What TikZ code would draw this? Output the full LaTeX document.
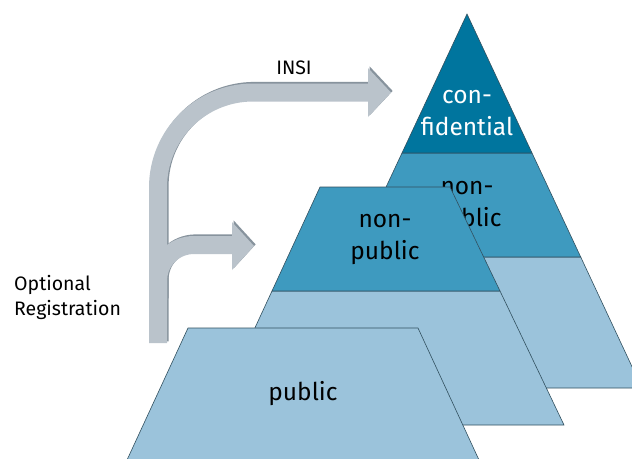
\documentclass[tikz,border=0pt]{standalone}
\usepackage{fontspec}
\setmainfont{Fira Sans}
\definecolor{conf}{RGB}{0,117,158}
\definecolor{nonpub}{RGB}{62,154,191}
\definecolor{pub}{RGB}{155,195,219}
\definecolor{edge}{RGB}{50,80,95}
\definecolor{arr}{RGB}{186,195,203}
\definecolor{arrdark}{RGB}{135,147,157}
\tikzset{
  band/.style={draw=edge,line width=0.6pt,line join=miter},
  lbl/.style={align=center,font=\fontsize{24.5}{32}\selectfont,text=black,inner sep=0pt},
  side/.style={align=left,font=\fontsize{19.5}{25}\selectfont,text=black,inner sep=0pt},
  trunk/.style={line width=18pt,line cap=butt},
}
\begin{document}
\begin{tikzpicture}[x=1pt,y=-1pt]
\useasboundingbox (0,0) rectangle (632,458);
\clip (0,0) rectangle (632,458);
\fill[white] (0,0) rectangle (632,458);
% arrows: shadow then light
\begin{scope}[shift={(1.6,-1.6)}]
  \draw[trunk,arrdark] (158,343) -- (158,187.5) .. controls (158,135) and (200.5,92.5) .. (253,92.5) -- (369,92.5);
  \fill[arrdark] (368,68) -- (391,92.5) -- (368,117) -- cycle;
  \draw[trunk,arrdark] (158,300) -- (158,281) .. controls (158,261) and (174,245) .. (194,245) -- (233,245);
  \fill[arrdark] (232,222) -- (254,246) -- (232,270) -- cycle;
\end{scope}
\draw[trunk,arr] (158,343) -- (158,187.5) .. controls (158,135) and (200.5,92.5) .. (253,92.5) -- (369,92.5);
\fill[arr] (368,68) -- (391,92.5) -- (368,117) -- cycle;
\draw[trunk,arr] (158,300) -- (158,281) .. controls (158,261) and (174,245) .. (194,245) -- (233,245);
\fill[arr] (232,222) -- (254,246) -- (232,270) -- cycle;
\node[side,anchor=north] (insi) at (294,61) {INSI};
\node[side,anchor=west] (optreg) at (14,297) {Optional\\Registration};
% back pyramid
\filldraw[band,fill=pub] (353.3,257) -- (580.7,257) -- (642,388) -- (292,388) -- cycle;
\filldraw[band,fill=nonpub] (402,153) -- (532,153) -- (580.7,257) -- (353.3,257) -- cycle;
\filldraw[band,fill=conf] (467,14) -- (532,153) -- (402,153) -- cycle;
\node[lbl,text=white] (conf) at (467,113) {con-\\fidential};
\node[lbl] (np1) at (467,207) {non-\\public};
% middle pyramid
\filldraw[band,fill=pub] (272,291) -- (500,291) -- (564,425) -- (210,425) -- cycle;
\filldraw[band,fill=nonpub] (320,187) -- (450,187) -- (500,291) -- (272,291) -- cycle;
\node[lbl] (np2) at (385,240) {non-\\public};
% front
\filldraw[band,fill=pub] (188,328) -- (418,328) -- (479,460) -- (127,460) -- cycle;
\node[lbl] (pub) at (303,394) {public};
\end{tikzpicture}
\end{document}
